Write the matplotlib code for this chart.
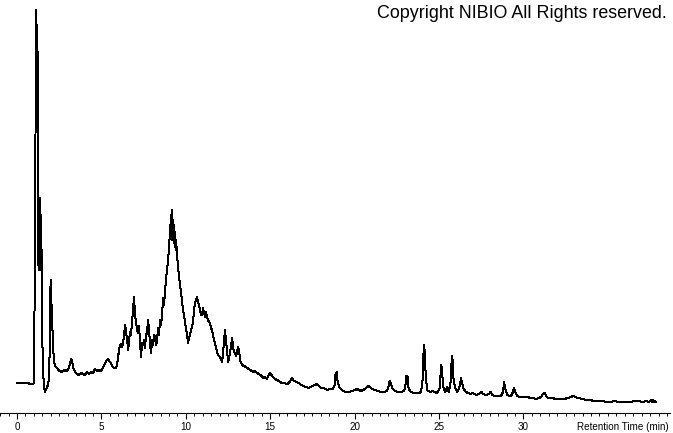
import matplotlib
matplotlib.use("Agg")
import matplotlib.pyplot as plt
from matplotlib.ticker import MultipleLocator

# chromatogram (retention time in min, detector signal in arbitrary units)
ret_time = [
    0.00, 0.30, 0.59, 0.83, 0.98, 1.02, 1.05, 1.08, 1.11, 1.14, 1.17, 1.18, 1.20, 1.23, 1.24, 1.27,
    1.30, 1.33, 1.36, 1.39, 1.40, 1.42, 1.44, 1.46, 1.48, 1.51, 1.54, 1.60, 1.66, 1.72, 1.78, 1.84,
    1.90, 1.93, 1.97, 2.00, 2.03, 2.07, 2.13, 2.19, 2.25,
    2.37, 2.43, 2.55, 2.67, 2.78, 2.90, 3.02, 3.14, 3.20, 3.26, 3.32, 3.44, 3.55, 3.67, 3.79, 3.91,
    4.03, 4.15, 4.27, 4.38, 4.50, 4.62, 4.74, 4.86, 4.98, 5.09, 5.21, 5.33, 5.39, 5.51, 5.63, 5.75,
    5.86, 5.92, 5.98, 6.04, 6.10, 6.16, 6.22, 6.28, 6.34, 6.40, 6.46, 6.52, 6.58, 6.64, 6.69, 6.75,
    6.81, 6.87, 6.93, 6.99, 7.05, 7.11, 7.17, 7.23, 7.29, 7.35, 7.40, 7.46, 7.52, 7.58,
    7.64, 7.70, 7.76, 7.82, 7.88, 7.94, 8.00, 8.06, 8.12, 8.18, 8.23, 8.29, 8.35, 8.41, 8.47, 8.53,
    8.59, 8.65, 8.71, 8.77, 8.83, 8.89, 8.95, 9.00, 9.06, 9.09, 9.12, 9.15, 9.18, 9.21, 9.24, 9.27,
    9.30, 9.33, 9.36, 9.39, 9.42, 9.48, 9.54, 9.60, 9.66, 9.72, 9.77, 9.83, 9.89, 9.95, 10.01, 10.07,
    10.13, 10.19, 10.25, 10.31, 10.37, 10.43, 10.49, 10.54, 10.60, 10.66, 10.72, 10.78, 10.84, 10.90,
    10.96, 11.02, 11.08, 11.14, 11.20, 11.26, 11.31, 11.37, 11.43, 11.49, 11.55, 11.61, 11.67, 11.73,
    11.79, 11.85, 11.91, 12.03, 12.14, 12.20, 12.26, 12.32, 12.38, 12.44, 12.50, 12.56, 12.62, 12.68,
    12.74, 12.80, 12.85, 12.91, 12.97, 13.03, 13.09, 13.15, 13.21, 13.33, 13.45, 13.57, 13.63, 13.74,
    13.80, 13.92, 13.98, 14.10, 14.22, 14.34, 14.40, 14.51, 14.57, 14.69, 14.81, 14.87, 14.99, 15.11,
    15.17, 15.28, 15.40, 15.52, 15.58, 15.70, 15.82, 15.99, 16.11, 16.17, 16.29, 16.41, 16.59, 16.76,
    16.94, 17.12, 17.30, 17.48, 17.66, 17.77, 17.89, 18.01, 18.19, 18.36, 18.54, 18.72, 18.81, 18.87,
    18.93, 18.99, 19.08, 19.20, 19.31, 19.49, 19.67, 19.85, 20.02, 20.14, 20.26, 20.38, 20.50, 20.68,
    20.79, 20.91, 21.03, 21.21, 21.39, 21.56, 21.74, 21.92, 22.01, 22.07, 22.13, 22.22, 22.39, 22.57,
    22.75, 22.93, 23.01, 23.07, 23.13, 23.19, 23.28,
    23.46, 23.64, 23.82, 23.93, 24.02, 24.07, 24.11, 24.15, 24.20, 24.29, 24.47, 24.64, 24.82, 24.94,
    25.03, 25.09, 25.13, 25.18, 25.24, 25.36, 25.44, 25.49, 25.56, 25.67, 25.73, 25.77, 25.81, 25.86,
    25.95, 26.07, 26.18, 26.24, 26.30, 26.36, 26.45, 26.60, 26.72, 26.84, 27.01, 27.19, 27.37, 27.52,
    27.61, 27.78, 27.96, 28.05, 28.14, 28.32, 28.49, 28.67, 28.79, 28.85, 28.91, 29.03, 29.21, 29.32,
    29.38, 29.44, 29.50, 29.62, 29.80, 29.98, 30.15, 30.27,
    30.39, 30.57, 30.75, 30.92, 31.04, 31.16, 31.25, 31.34, 31.46, 31.69, 31.93, 32.17, 32.40, 32.64,
    32.82, 32.94, 33.06, 33.24, 33.47, 33.71, 33.94, 34.18, 34.42, 34.66, 34.89, 35.13, 35.37, 35.60,
    35.84, 36.08, 36.32, 36.55, 36.79, 37.03, 37.26, 37.44, 37.56, 37.62, 37.67, 37.73, 37.79, 37.85,
]
signal = [
    30, 29.5, 30, 29, 29.5, 30, 186, 186, 401, 403, 373, 358, 351, 361, 263, 148,
    143, 183, 215, 198, 143, 188, 148, 163, 93, 63, 43, 25, 21, 24, 25, 30,
    33, 63, 123, 133, 113, 98, 68, 51, 47,
    45, 43, 42, 41, 43, 42, 43, 49, 54, 52, 45, 41, 39, 38, 40, 39,
    38, 41, 39, 41, 40, 44, 42, 43, 42, 45, 50, 53, 54, 51, 47, 45,
    45, 48, 55, 63, 68, 69, 66, 70, 78, 88, 81, 73, 63, 73, 81, 78,
    91, 103, 116, 98, 91, 83, 80, 87, 68, 56, 70, 68, 73, 65,
    78, 80, 93, 83, 68, 60, 73, 68, 78, 76, 68, 71, 85, 78, 93, 88,
    98, 115, 108, 123, 133, 146, 151, 168, 178, 188, 198, 173, 203, 178, 193, 173,
    188, 168, 181, 163, 173, 158, 145, 136, 128, 120, 113, 103, 98, 90, 85, 78,
    70, 75, 78, 83, 86, 93, 103, 110, 113, 116, 111, 108, 103, 98,
    98, 105, 100, 96, 101, 95, 93, 91, 90, 85, 83, 78, 73, 70,
    65, 61, 58, 56, 51, 58, 73, 83, 71, 63, 51, 55, 60, 68,
    75, 65, 61, 60, 57, 61, 66, 63, 53, 48, 47, 46, 45, 44,
    43, 42, 41, 42, 40, 39, 38, 37, 35, 36, 34, 37, 40, 37,
    36, 34, 33, 32, 31, 30, 30, 29, 30, 32, 35, 32, 31, 29,
    27, 26, 25, 27, 28, 29, 27, 25, 25, 23, 24, 24, 28, 39,
    41, 31, 26, 24, 22, 21, 21, 22, 23, 24, 23, 22, 23, 25,
    27, 26, 24, 23, 22, 21, 21, 22, 27, 32, 30, 25, 22, 21,
    21, 22, 28, 37, 36, 25, 22,
    20, 20, 20, 21, 33, 58, 68, 61, 41, 23, 21, 22, 20, 21,
    25, 38, 48, 41, 27, 21, 24, 26, 21, 28, 48, 57, 51, 33,
    25, 21, 24, 29, 35, 30, 24, 21, 20, 19, 20, 18, 19, 21,
    19, 18, 19, 21, 18, 17, 17, 17, 21, 31, 25, 18, 17, 18,
    22, 25, 22, 17, 16, 16, 16, 16,
    15, 15, 14, 15, 16, 19, 20, 17, 15, 15, 14, 14, 14, 15,
    16, 17, 16, 15, 14, 13, 13, 12, 12, 12, 11, 11, 12, 11,
    11, 11, 11, 12, 12, 11, 12, 11, 13, 11, 13, 11, 12, 11,
]

major_ticks = [0, 5, 10, 15, 20, 25, 30]

fig = plt.figure(figsize=(6.73, 4.33), dpi=100)
ax = fig.add_axes([0.0, 20 / 433, 670 / 673, 413 / 433])

ax.plot(ret_time, signal, color="black", lw=0.72, antialiased=False)

ax.set_xlim(-1.01, 38.68)
ax.set_ylim(0, 413)

for side in ["left", "right", "top"]:
    ax.spines[side].set_visible(False)
ax.spines["bottom"].set_linewidth(0.8)
ax.set_yticks([])

ax.set_xticks(major_ticks)
ax.xaxis.set_minor_locator(MultipleLocator(0.5))
ax.tick_params(axis="x", which="major", direction="out", length=4.5, width=0.8, pad=2.2,
               labelsize=7.1)
ax.tick_params(axis="x", which="minor", direction="out", length=2.3, width=0.7)
for lbl in ax.get_xticklabels():
    lbl.set_family("Liberation Sans")

fig.text(669 / 673, 1 - 427 / 433, "Retention Time (min)", ha="right", va="center",
         fontsize=7.1, family="Liberation Sans")
fig.text(667 / 673, 1 - 14 / 433, "Copyright NIBIO All Rights reserved.", ha="right",
         va="center", fontsize=12.9, family="Liberation Sans")

fig.savefig("out.png", dpi=100)
